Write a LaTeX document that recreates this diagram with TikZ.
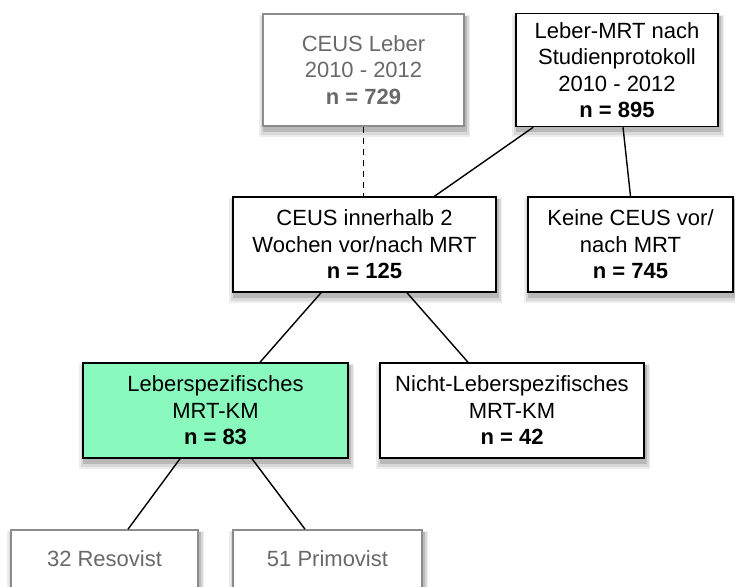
\documentclass[tikz,border=0pt]{standalone}
\usepackage{fontspec}
\setmainfont{Liberation Sans}
\usepackage{tikz}
\usetikzlibrary{positioning}
\usetikzlibrary{backgrounds}

\definecolor{kmgreen}{RGB}{138,249,190}
\definecolor{greyline}{RGB}{140,140,140}
\definecolor{greytext}{RGB}{105,105,105}

\begin{document}
\begin{tikzpicture}[on grid,
		box/.style={rectangle,draw=black,line width=1.5pt,fill=white,align=center,inner sep=0pt,
			font=\fontsize{22}{26.5}\selectfont},
		greybox/.style={box,draw=greyline,text=greytext,line width=1.6pt},
		link/.style={line width=1.4pt,black}]
		\useasboundingbox (0,0) rectangle (735pt,-586pt);
		\node[greybox,minimum width=201pt,minimum height=112pt] (ceus) at (363.5pt,-70pt)
			{CEUS Leber\\2010 - 2012\\\textbf{n = 729}};
		\node[box,minimum width=202pt,minimum height=113pt] (mrt) [right=253.5pt of ceus]
			{Leber-MRT nach\\Studienprotokoll\\2010 - 2012\\\textbf{n = 895}};
		
		\node[box,minimum width=263pt,minimum height=95pt] (innerhalb) [below=174.5pt of ceus,xshift=1pt]
			{CEUS innerhalb 2\\Wochen vor/nach MRT\\\textbf{n = 125}};
		\node[box,minimum width=205pt,minimum height=95pt] (keine) [right=266pt of innerhalb]
			{Keine CEUS vor/\\nach MRT\\\textbf{n = 745}};
		
		\node[box,fill=kmgreen,minimum width=265pt,minimum height=95pt] (leber) [below left=166pt and 149pt of innerhalb]
			{Leberspezifisches\\MRT-KM\\\textbf{n = 83}};
		\node[box,minimum width=264pt,minimum height=95pt] (nicht) [right=296.5pt of leber]
			{Nicht-Leberspezifisches\\MRT-KM\\\textbf{n = 42}};
		
		\node[greybox,minimum width=187pt,minimum height=58pt] (resovist) [below left=148.5pt and 111pt of leber]
			{32 Resovist};
		\node[greybox,minimum width=189pt,minimum height=58pt] (primovist) [right=223pt of resovist]
			{51 Primovist};
		
		% soft shadows under the boxes
		\begin{pgfonlayer}{background}
			\foreach \b in {ceus,mrt,innerhalb,keine,leber,nicht,resovist,primovist}{
				\fill[black!7] ([shift={(-3pt,-10pt)}]\b.south west) rectangle ([shift={(5pt,-2pt)}]\b.north east);
				\fill[black!15] ([shift={(-1pt,-8pt)}]\b.south west) rectangle ([shift={(4pt,-3pt)}]\b.north east);
				\fill[black!28] ([shift={(1pt,-5pt)}]\b.south west) rectangle ([shift={(2.5pt,-3pt)}]\b.north east);
			}
		\end{pgfonlayer}
		
		\draw[link,dashed,dash pattern=on 6pt off 5pt] (ceus.south) -- (ceus.south |- innerhalb.north);
		\draw[link] ([xshift=18pt]mrt.south west) -- ([xshift=70pt]innerhalb.north);
		\draw[link] ([xshift=6pt]mrt.south) -- (keine.north);
		\draw[link] ([xshift=-43.5pt]innerhalb.south) -- ([xshift=44.5pt]leber.north);
		\draw[link] ([xshift=42.5pt]innerhalb.south) -- ([xshift=-44pt]nicht.north);
		\draw[link] ([xshift=-35.5pt]leber.south) -- ([xshift=23.5pt]resovist.north);
		\draw[link] ([xshift=36.5pt]leber.south) -- ([xshift=-22.5pt]primovist.north);
\end{tikzpicture}
\end{document}
